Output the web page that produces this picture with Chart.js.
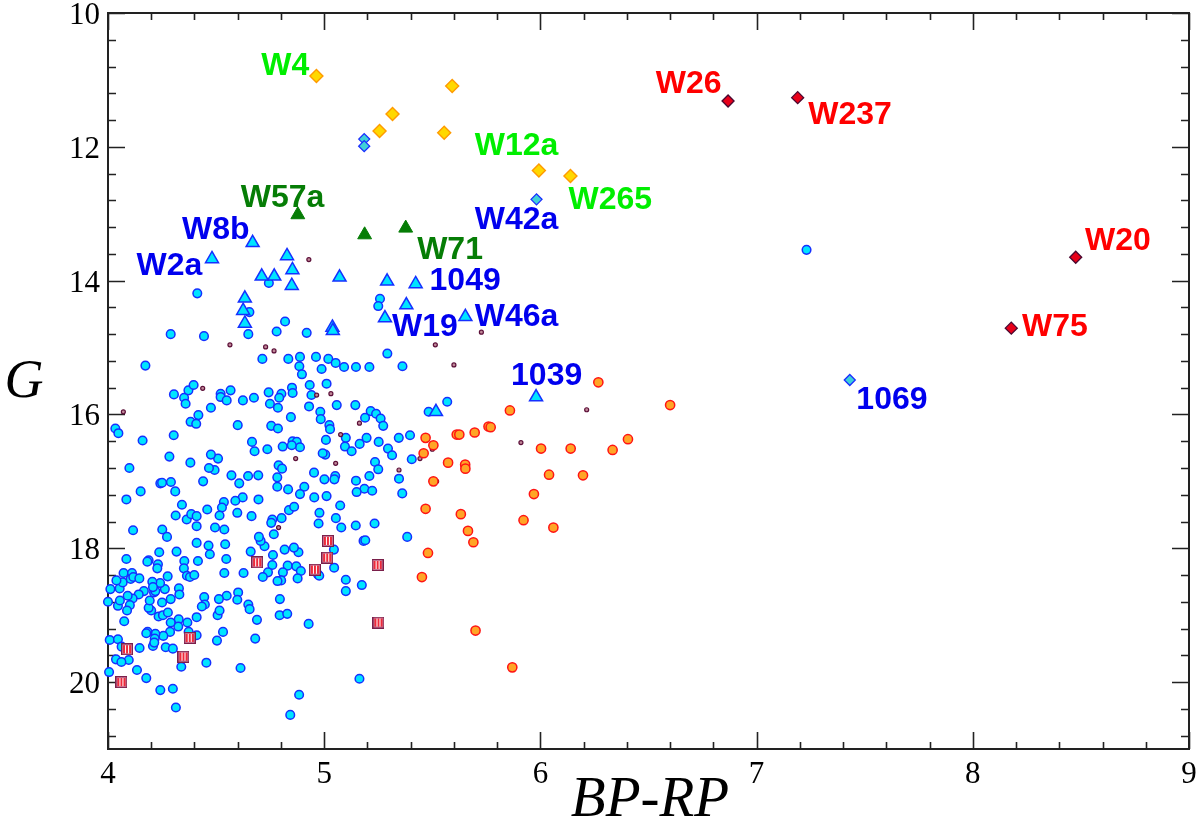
<!DOCTYPE html>
<html>
<head>
<meta charset="utf-8">
<script src="https://cdn.jsdelivr.net/npm/chart.js@4.4.1/dist/chart.umd.min.js"></script>
<style>
  html, body { margin: 0; padding: 0; background: #fff; }
  canvas { display: block; }
</style>
</head>
<body>
<canvas id="cmd" width="1200" height="821"></canvas>
<script>
// colour-magnitude diagram, G vs BP-RP
// [BP-RP, G]
const cyanCircles = [
  [4.413,14.19],[4.744,14.035],[4.654,14.47],[4.819,14.61],[5.258,14.27],[5.25,14.38],[4.29,14.80],[4.444,14.83],
  [4.649,14.80],[4.78,14.76],[4.919,14.78],[4.173,15.27],[4.714,15.17],[4.834,15.17],[4.888,15.14],[4.885,15.28],
  [4.897,15.40],[4.962,15.14],[4.988,15.32],[5.019,15.17],[5.053,15.23],[5.092,15.29],[5.147,15.29],[5.209,15.29],
  [5.292,15.09],[5.362,15.28],[4.305,15.70],[4.352,15.75],[4.372,15.64],[4.396,15.56],[4.359,15.84],[4.418,16.01],
  [4.382,16.11],[4.408,16.14],[4.476,15.90],[4.521,15.69],[4.521,15.74],[4.549,15.79],[4.567,15.64],[4.624,15.79],
  [4.675,15.75],[4.60,16.16],[4.743,15.67],[4.749,15.84],[4.786,15.90],[4.802,15.69],[4.792,15.75],[4.851,15.60],
  [4.854,15.68],[4.846,16.04],[4.755,16.17],[4.786,16.21],[4.933,15.56],[4.941,15.71],[4.93,15.88],[5.011,15.54],
  [5.058,15.86],[4.982,15.96],[4.984,16.07],[5.024,16.16],[5.027,16.22],[5.144,15.86],[5.215,15.95],[5.24,15.99],
  [5.261,16.06],[5.273,16.17],[5.189,16.05],[5.10,16.35],[5.096,16.48],[5.127,16.55],[5.164,16.44],[5.196,16.35],
  [5.252,16.41],[5.295,16.51],[5.314,16.61],[5.345,16.35],[5.397,16.31],[5.405,16.67],[5.483,15.96],[5.569,15.81],
  [5.346,16.96],[5.361,17.18],[5.235,16.71],[5.25,16.82],[5.209,16.92],[5.147,16.99],[5.186,17.11],[5.222,17.14],
  [5.15,17.16],[5.051,16.92],[5.047,16.97],[5.011,17.22],[5.001,16.97],[5.005,16.60],[4.993,16.58],[5.008,16.38],
  [4.953,16.87],[4.908,17.08],[4.888,17.19],[4.954,17.24],[4.833,17.12],[4.783,17.08],[4.783,16.94],[4.789,16.76],
  [4.805,16.81],[4.808,16.48],[4.854,16.40],[4.873,16.41],[4.888,16.49],[4.85,16.46],[4.737,16.52],[4.678,16.55],
  [4.666,16.41],[4.695,16.91],[4.648,16.92],[4.607,17.03],[4.571,16.91],[4.623,17.24],[4.44,17.0],[4.493,16.83],
  [4.467,16.80],[4.509,16.66],[4.476,16.60],[4.381,16.72],[4.284,16.63],[4.311,17.15],[4.304,16.31],[4.160,16.39],
  [4.099,16.80],[4.151,17.15],[4.242,17.03],[4.25,17.02],[4.291,17.01],[4.034,16.21],[4.048,16.28],
  [4.085,17.27],[4.342,17.35],[4.536,17.31],[4.527,17.39],[4.589,17.29],[4.696,17.27],[4.313,17.51],[4.364,17.57],
  [4.385,17.49],[4.41,17.52],[4.41,17.67],[4.459,17.42],[4.116,17.73],[4.251,17.72],[4.273,17.83],[4.495,17.69],
  [4.538,17.72],[4.516,17.51],[4.598,17.47],[4.664,17.52],[4.76,17.57],[4.755,17.62],[4.803,17.55],[4.767,17.79],
  [4.837,17.43],[4.861,17.38],[4.978,17.47],[4.974,17.63],[5.054,17.55],[5.079,17.69],[5.074,17.36],[5.146,17.66],
  [5.233,17.63],[5.384,17.83],[5.182,17.89],[5.19,17.88],[5.045,18.02],[5.046,18.29],[5.10,18.47],[5.10,18.64],
  [5.174,18.55],[4.971,18.39],[4.977,18.41],[4.881,18.06],[4.86,17.99],[4.817,18.02],[4.831,18.26],[4.871,18.27],
  [4.892,18.34],[4.809,18.36],[4.801,18.48],[4.784,18.49],[4.877,18.45],[4.763,18.10],[4.76,18.25],[4.74,18.36],
  [4.724,17.97],[4.706,17.89],[4.698,17.83],[4.66,18.05],[4.627,18.37],[4.716,18.43],[4.602,18.66],[4.598,18.77],
  [4.549,18.71],[4.513,18.76],[4.507,19.0],[4.516,18.93],[4.445,18.73],[4.448,18.84],[4.434,18.87],[4.41,19.03],
  [4.367,19.11],[4.327,19.06],[4.325,19.17],[4.29,19.11],[4.287,19.25],[4.256,19.31],[4.219,19.28],[4.216,19.35],
  [4.183,19.25],[4.177,19.27],[4.208,19.46],[4.214,19.41],[4.267,19.48],[4.30,19.50],[4.146,19.49],[4.234,19.02],
  [4.254,19.0],[4.277,18.96],[4.20,18.93],[4.188,18.89],[4.193,18.78],[4.25,18.81],[4.213,18.66],[4.219,18.64],
  [4.263,18.61],[4.241,18.52],[4.205,18.50],[4.208,18.58],[4.166,18.64],[4.142,18.69],[4.114,18.75],[4.091,18.71],
  [4.101,18.85],[4.088,18.93],[4.046,18.86],[4.055,18.78],[4.0,18.80],[4.011,18.61],[4.054,18.60],[4.068,18.51],
  [4.039,18.48],[4.072,18.37],[4.111,18.37],[4.105,18.46],[4.117,18.43],[4.145,18.45],[4.075,19.09],[4.008,19.37],
  [4.046,19.36],[4.063,19.47],[4.096,19.67],[4.037,19.66],[4.062,19.70],[4.005,19.85],[4.134,19.82],[4.177,19.94],
  [4.242,20.12],[4.30,20.10],[4.314,20.38],[4.339,19.77],[4.276,18.42],[4.237,18.06],[4.317,18.05],[4.353,18.19],
  [4.351,18.30],[4.365,18.41],[4.379,18.43],[4.399,18.40],[4.416,18.19],[4.41,17.92],[4.465,17.96],[4.471,18.09],
  [4.542,17.94],[4.547,18.16],[4.538,18.37],[4.649,18.84],[4.655,18.91],[4.689,19.07],[4.681,19.35],[4.532,19.25],
  [4.504,19.38],[4.41,19.30],[4.373,19.25],[4.378,19.34],[4.455,19.71],[4.613,19.79],[4.795,18.76],[4.794,19.0],
  [4.829,18.98],[4.928,19.13],[5.163,19.95],[4.884,20.19],[4.843,20.49],[4.328,18.60],[4.33,18.69],[4.29,18.76],
  [4.085,18.16],[4.188,18.18],[4.182,18.20],[4.231,18.24],[4.228,18.30],[7.231,13.54]
];
const smallDots = [
  [4.929,13.685],[4.564,14.96],[4.729,14.99],[4.768,15.05],[4.438,15.61],[4.965,15.71],[5.031,15.69],[4.071,15.96],
  [5.163,16.13],[5.076,16.30],[4.868,16.66],[5.053,16.73],[5.346,16.83],[5.514,14.96],[5.443,16.66],[5.52,17.0],
  [5.727,14.77],[5.60,15.26],[6.214,15.93],[5.91,16.42],[5.50,16.52],[4.789,17.69]
];
const orangeCircles = [
  [6.268,15.52],[6.60,15.86],[5.859,15.94],[5.469,16.35],[5.505,16.46],[5.46,16.58],[5.613,16.30],[5.625,16.30],
  [5.696,16.27],[5.76,16.18],[5.77,16.19],[6.003,16.51],[6.14,16.51],[6.334,16.53],[6.405,16.37],[6.04,16.90],
  [6.197,16.91],[5.573,16.72],[5.652,16.75],[5.653,16.81],[5.505,17.0],[5.97,17.19],[5.469,17.41],[5.632,17.49],
  [5.922,17.58],[6.06,17.69],[5.665,17.74],[5.69,17.91],[5.48,18.07],[5.452,18.43],[5.70,19.23],[5.87,19.78]
];
const stripedSquares = [
  [5.017,17.89],[5.014,18.14],[4.957,18.32],[4.69,18.21],[5.247,18.25],[5.251,19.11],[4.378,19.34],[4.088,19.51],
  [4.349,19.62],[4.062,20.0]
];
const cyanTriangles = [
  [4.669,13.435],[4.481,13.675],[4.828,13.63],[4.711,13.935],[4.769,13.935],[4.853,13.84],[4.85,14.075],[5.071,13.95],
  [5.291,14.01],[5.423,14.05],[4.633,14.265],[4.625,14.45],[4.633,14.64],[5.38,14.365],[5.281,14.56],[5.653,14.54],
  [5.038,14.70],[5.04,14.75],[5.517,15.96],[5.98,15.74]
];
const greenTriangles = [[4.878,13.015],[5.187,13.315],[5.377,13.215]];
const yellowDiamonds = [
  [4.964,10.94],[5.592,11.09],[5.316,11.51],[5.256,11.765],[5.555,11.79],[5.993,12.355],[6.139,12.435]
];
const cyanDiamonds = [[5.185,11.885],[5.185,11.99],[5.982,12.785],[7.431,15.485]];
const redDiamonds = [[6.868,11.315],[7.19,11.265],[8.476,13.65],[8.178,14.71]];

// star names, placed in data units
const labelNames  = ['W4','W12a','W265','W57a','W42a','W8b','W71','W2a','1049','W46a','W19','1039','W26','W237','W20','W75','1069'];
const labelX      = [4.82,5.89,6.323,4.807,5.89,4.499,5.582,4.284,5.652,5.89,5.466,6.029,6.686,7.432,8.671,8.38,7.626];
const labelY      = [10.75,11.95,12.75,12.725,13.05,13.2,13.5,13.75,13.975,14.5,14.657,15.39,11.025,11.485,13.375,14.65,15.75];
const labelColors = ['#00ee00','#00ee00','#00ee00','#067d06','#0000ee','#0000ee','#067d06','#0000ee','#0000ee','#0000ee',
                     '#0000ee','#0000ee','#ff0000','#ff0000','#ff0000','#ff0000','#0000ee'];

// axis ticks
const xMin = 4, xMax = 9, yMin = 10, yMax = 21;
const xTickLabels = [4, 5, 6, 7, 8, 9];
const yTickLabels = [10, 12, 14, 16, 18, 20];

const pts = arr => arr.map(p => ({ x: p[0], y: p[1] }));
const serif = '"Liberation Serif", "Times New Roman", serif';

// little pink square with vertical stripes
function stripedSquare() {
  const c = document.createElement('canvas');
  c.width = 12; c.height = 12;
  const g = c.getContext('2d');
  g.fillStyle = '#d98aa6';
  g.fillRect(0, 0, 12, 12);
  g.fillStyle = '#ee2a3a';
  g.fillRect(2, 2, 8, 8);
  g.fillStyle = '#ffffff';
  g.fillRect(4, 2, 1, 8);
  g.fillRect(7, 2, 1, 8);
  g.strokeStyle = '#7a1f4a';
  g.lineWidth = 1.2;
  g.strokeRect(0.6, 0.6, 10.8, 10.8);
  return c;
}

// frame, inward ticks on all four sides, tick labels
const framePlugin = {
  id: 'frame',
  beforeDatasetsDraw(chart) {
    const { ctx, chartArea: a, scales } = chart;
    const xs = scales.x, ys = scales.y;
    ctx.save();
    ctx.strokeStyle = '#222';
    ctx.lineWidth = 1.6;
    for (let i = 0; i <= 25; i++) {
      const px = Math.round(xs.getPixelForValue(xMin + i * 0.2)) + 0.5;
      const len = i % 5 === 0 ? 17 : 7;
      ctx.beginPath();
      ctx.moveTo(px, a.bottom); ctx.lineTo(px, a.bottom - len);
      ctx.moveTo(px, a.top); ctx.lineTo(px, a.top + len);
      ctx.stroke();
    }
    for (let i = 0; i <= 27; i++) {
      const py = Math.round(ys.getPixelForValue(yMin + i * 0.4)) + 0.5;
      const len = i % 5 === 0 ? 17 : 8;
      ctx.beginPath();
      ctx.moveTo(a.left, py); ctx.lineTo(a.left + len, py);
      ctx.moveTo(a.right, py); ctx.lineTo(a.right - len, py);
      ctx.stroke();
    }
    ctx.lineWidth = 2;
    ctx.strokeRect(a.left, a.top, a.right - a.left, a.bottom - a.top);

    ctx.fillStyle = '#000';
    ctx.font = '31px ' + serif;
    ctx.textBaseline = 'alphabetic';
    ctx.textAlign = 'center';
    xTickLabels.forEach(v => ctx.fillText(String(v), xs.getPixelForValue(v), a.bottom + 34));
    ctx.textAlign = 'right';
    yTickLabels.forEach(v => ctx.fillText(String(v), a.left - 8, ys.getPixelForValue(v) + 11));
    ctx.restore();
  },
  afterDraw(chart) {
    const { ctx, scales } = chart;
    ctx.save();
    ctx.font = 'bold 32px "Liberation Sans", Arial, sans-serif';
    ctx.textAlign = 'center';
    ctx.textBaseline = 'alphabetic';
    labelNames.forEach((t, i) => {
      ctx.fillStyle = labelColors[i];
      ctx.fillText(t, scales.x.getPixelForValue(labelX[i]), scales.y.getPixelForValue(labelY[i]) + 11.5);
    });
    ctx.fillStyle = '#000';
    ctx.font = 'italic 54px ' + serif;
    ctx.fillText('G', 24, 397);
    ctx.font = 'italic 57px ' + serif;
    ctx.fillText('BP-RP', 650, 816);
    ctx.restore();
  }
};

new Chart(document.getElementById('cmd'), {
  type: 'scatter',
  data: {
    datasets: [
      { label: 'red diamonds', data: pts(redDiamonds), order: 1, pointStyle: 'rectRot', pointRadius: 6,
        backgroundColor: '#e8001a', borderColor: '#4a0830', borderWidth: 1.3, clip: false },
      { label: 'cyan diamonds', data: pts(cyanDiamonds), order: 2, pointStyle: 'rectRot', pointRadius: 5.5,
        backgroundColor: '#3fd0d8', borderColor: '#1a2cff', borderWidth: 1.3, clip: false },
      { label: 'yellow diamonds', data: pts(yellowDiamonds), order: 3, pointStyle: 'rectRot', pointRadius: 6.5,
        backgroundColor: '#ffd800', borderColor: '#ff9a00', borderWidth: 1.4, clip: false },
      { label: 'green triangles', data: pts(greenTriangles), order: 4, pointStyle: 'triangle', pointRadius: 8,
        backgroundColor: '#067d06', borderColor: '#067d06', borderWidth: 1, clip: false },
      { label: 'cyan triangles', data: pts(cyanTriangles), order: 5, pointStyle: 'triangle', pointRadius: 7.5,
        backgroundColor: '#00e4ff', borderColor: '#1530ff', borderWidth: 1.5, clip: false },
      { label: 'squares', data: pts(stripedSquares), order: 6, pointStyle: stripedSquare(), pointRadius: 6, clip: false },
      { label: 'orange', data: pts(orangeCircles), order: 7, pointStyle: 'circle', pointRadius: 4.6,
        backgroundColor: '#ffa526', borderColor: '#ff1414', borderWidth: 1.5, clip: false },
      { label: 'small', data: pts(smallDots), order: 8, pointStyle: 'circle', pointRadius: 2,
        backgroundColor: '#c08898', borderColor: '#5c0f38', borderWidth: 1.2, clip: false },
      { label: 'cyan circles', data: pts(cyanCircles), order: 9, pointStyle: 'circle', pointRadius: 4.3,
        backgroundColor: '#00e4ff', borderColor: '#1530ff', borderWidth: 1.5, clip: false }
    ]
  },
  options: {
    responsive: false,
    animation: false,
    events: [],
    layout: { padding: { top: 13, right: 11, left: 0, bottom: 0 } },
    plugins: { legend: { display: false }, tooltip: { enabled: false } },
    scales: {
      x: {
        type: 'linear', min: xMin, max: xMax,
        grid: { display: false }, border: { display: false },
        ticks: { display: false },
        afterFit(s) { s.height = 72; }
      },
      y: {
        type: 'linear', min: yMin, max: yMax, reverse: true,
        grid: { display: false }, border: { display: false },
        ticks: { display: false },
        afterFit(s) { s.width = 108; }
      }
    }
  },
  plugins: [framePlugin]
});
</script>
</body>
</html>
